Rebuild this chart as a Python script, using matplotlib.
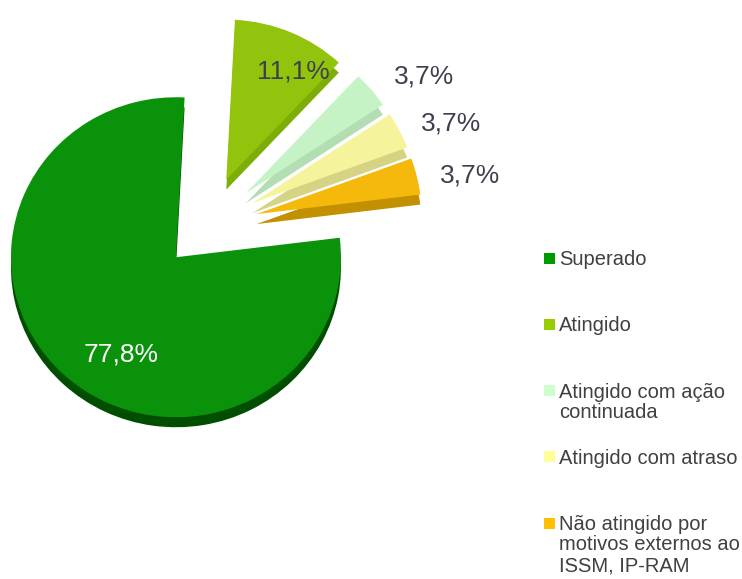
import numpy as np
import matplotlib.pyplot as plt
from matplotlib.patches import Rectangle

plt.rcParams['font.family'] = ['Liberation Sans', 'DejaVu Sans']

# data
categories = ["Superado", "Atingido", "Atingido com ação\ncontinuada",
              "Atingido com atraso",
              "Não atingido por\nmotivos externos ao\nISSM, IP-RAM"]
counts = [21, 3, 1, 1, 1]
pct_labels = ["77,8%", "11,1%", "3,7%", "3,7%", "3,7%"]

# styles
top_colors = ["#0A930A", "#93C40D", "#C6F3C6", "#F5F39B", "#F5B90C"]
side_colors = ["#004E00", "#7DAE08", "#B2DEB2", "#D6D384", "#C29000"]
legend_colors = ["#009900", "#99CC00", "#CCFFCC", "#FFFF99", "#FFC000"]
explode = [0.267, 0.315, 0.315, 0.315, 0.315]
label_dist = [0.68, 0.80, 1.31, 1.31, 1.32]
label_turn = [14, -7.6, -5.8, -4.1, -2.5]   # degrees from slice middle
label_color = ["white", "#3F3F4F", "#3F3F4F", "#3F3F4F", "#3F3F4F"]

W, H = 742, 579
sx, sy = 165.0, 160.0       # pixels per unit (slightly squashed, looks tilted)
cx, cy = 206, 226           # pie centre, image pixels
depth = 10

fig = plt.figure(figsize=(W / 100, H / 100), dpi=100)
ax = fig.add_axes([0, 0, 1, 1])

# side of the "3d" pie: same pie, pushed down and darker
ax.pie(counts, radius=1, center=(0, -depth / sy), startangle=7,
       counterclock=False, explode=explode, colors=side_colors,
       wedgeprops=dict(linewidth=0))
wedges, _ = ax.pie(counts, radius=1, center=(0, 0), startangle=7,
                   counterclock=False, explode=explode, colors=top_colors,
                   wedgeprops=dict(linewidth=0))

for w, txt, d, turn, col in zip(wedges, pct_labels, label_dist, label_turn, label_color):
    mid = np.deg2rad((w.theta1 + w.theta2) / 2 + turn)
    x0, y0 = w.center
    ax.text(x0 + d * np.cos(mid), y0 + d * np.sin(mid) - 2 / sy, txt, ha='center',
            va='center', fontsize=19, color=col)

ax.set_aspect('auto')
ax.set_xlim(-cx / sx, (W - cx) / sx)
ax.set_ylim(-(H - cy) / sy, cy / sy)
ax.axis('off')

# legend, drawn in pixel coordinates
lg = fig.add_axes([0, 0, 1, 1])
lg.set_xlim(0, W)
lg.set_ylim(H, 0)
lg.axis('off')
for i, (name, col) in enumerate(zip(categories, legend_colors)):
    yc = 258 + i * 66.25
    lg.add_patch(Rectangle((543.5, yc - 5.5), 11, 11, facecolor=col, edgecolor='none'))
    lg.text(559, yc - 8, name, ha='left', va='top', fontsize=14.5,
            color="#404040", linespacing=1.1)

fig.savefig("out.png", dpi=100)
